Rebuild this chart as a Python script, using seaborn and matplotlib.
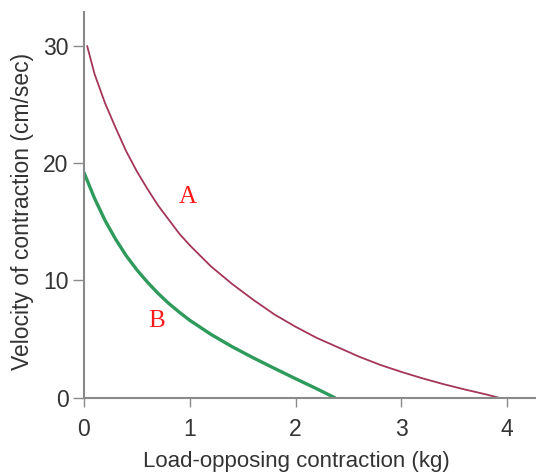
import matplotlib
matplotlib.use("Agg")
import matplotlib.pyplot as plt
import seaborn as sns
import pandas as pd

# Curve A
a_load = [0.03, 0.1, 0.2, 0.3, 0.4, 0.5, 0.6, 0.7, 0.8, 0.9, 1.0, 1.2, 1.4, 1.6,
          1.8, 2.0, 2.2, 2.4, 2.6, 2.8, 3.0, 3.2, 3.4, 3.6, 3.8, 3.92]
a_vel = [30.0, 27.6, 25.1, 23.0, 21.0, 19.3, 17.8, 16.4, 15.2, 14.0, 13.0, 11.2, 9.7, 8.35,
         7.1, 6.05, 5.1, 4.3, 3.5, 2.8, 2.2, 1.65, 1.15, 0.7, 0.28, 0.0]

# Curve B
b_load = [0.0, 0.1, 0.2, 0.3, 0.4, 0.5, 0.6, 0.7, 0.8, 0.9, 1.0, 1.2, 1.4, 1.6,
          1.8, 2.0, 2.2, 2.37]
b_vel = [19.2, 17.0, 15.1, 13.5, 12.1, 10.9, 9.85, 8.9, 8.05, 7.3, 6.6, 5.4, 4.35, 3.4,
         2.5, 1.62, 0.76, 0.0]

xticks = [0, 1, 2, 3, 4]
yticks = [0, 10, 20, 30]
xlabel = "Load-opposing contraction (kg)"
ylabel = "Velocity of contraction (cm/sec)"
labels = {"A": (0.98, 17.1), "B": (0.69, 6.5)}

sns.set_style("ticks")
plt.rcParams['font.family'] = ['Liberation Sans', 'DejaVu Sans']

df_a = pd.DataFrame({"load": a_load, "vel": a_vel})
df_b = pd.DataFrame({"load": b_load, "vel": b_vel})

fig = plt.figure(figsize=(5.36, 4.75), dpi=100)
ax = fig.add_axes([84/536, (475-397.7)/475, (536-84)/536, (397.7-12)/475])

sns.lineplot(data=df_a, x="load", y="vel", ax=ax, color="#a43657", linewidth=1.3, sort=False)
sns.lineplot(data=df_b, x="load", y="vel", ax=ax, color="#2e9a5c", linewidth=2.4, sort=False)

ax.set_xlim(0, 4.272)
ax.set_ylim(0, 32.9)
ax.set_xticks(xticks)
ax.set_yticks(yticks)
ax.set_xticklabels([str(t) for t in xticks])
ax.set_yticklabels([str(t) for t in yticks])

for s in ["top", "right"]:
    ax.spines[s].set_visible(False)
for s in ["left", "bottom"]:
    ax.spines[s].set_color("#8a8a8a")
    ax.spines[s].set_linewidth(1.5)

ax.tick_params(axis="both", colors="#8a8a8a", width=1.0, labelcolor="#333333",
               labelsize=16.5)
ax.tick_params(axis="y", length=8, pad=3)
ax.tick_params(axis="x", length=6.5, pad=8)

ax.set_xlabel(xlabel, fontsize=16, color="#333333", labelpad=7)
ax.set_ylabel(ylabel, fontsize=16.5, color="#333333", labelpad=7)
ax.xaxis.label.set_x(0.469)
ax.yaxis.label.set_y(0.484)

for name, (x, y) in labels.items():
    ax.text(x, y, name, color="#ff1a1a", fontsize=18, family="Liberation Serif",
            ha="center", va="center")

fig.savefig("out.png", dpi=100, facecolor="white")
